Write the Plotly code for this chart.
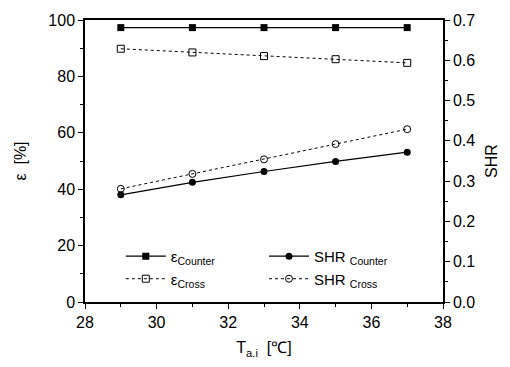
import plotly.graph_objects as go

temps = [29, 31, 33, 35, 37]
eps_counter = [97.3, 97.3, 97.3, 97.3, 97.3]
eps_cross = [89.8, 88.5, 87.2, 86.1, 84.8]
shr_counter = [0.266, 0.297, 0.324, 0.349, 0.372]
shr_cross = [0.281, 0.318, 0.354, 0.392, 0.429]

FONT = "Liberation Sans, Arial, sans-serif"

fig = go.Figure()
fig.add_trace(go.Scatter(x=temps, y=eps_counter, name="ε<sub>Counter</sub>",
                         mode="lines+markers", line=dict(color="black", width=1.2),
                         marker=dict(symbol="square", size=7, color="black"), legend="legend"))
fig.add_trace(go.Scatter(x=temps, y=eps_cross, name="ε<sub>Cross</sub>",
                         mode="lines+markers", line=dict(color="black", width=1, dash="3px,3px"),
                         marker=dict(symbol="square-open", size=7, color="black", line=dict(width=1)), legend="legend"))
fig.add_trace(go.Scatter(x=temps, y=shr_counter, name="SHR <sub>Counter</sub>", yaxis="y2",
                         mode="lines+markers", line=dict(color="black", width=1.2),
                         marker=dict(symbol="circle", size=7, color="black"), legend="legend2"))
fig.add_trace(go.Scatter(x=temps, y=shr_cross, name="SHR <sub>Cross</sub>", yaxis="y2",
                         mode="lines+markers", line=dict(color="black", width=1, dash="3px,3px"),
                         marker=dict(symbol="circle-open", size=7, color="black", line=dict(width=1)), legend="legend2"))

axis_common = dict(showline=True, linecolor="black", linewidth=1.5, ticks="outside",
                   ticklen=5, tickwidth=1.2, tickcolor="black", showgrid=False, zeroline=False,
                   tickfont=dict(family=FONT, size=16, color="black"))

fig.update_layout(
    width=510, height=367,
    margin=dict(l=85, r=61, t=17, b=65),
    paper_bgcolor="white", plot_bgcolor="white",
    font=dict(family=FONT, color="black"),
    xaxis=dict(range=[28, 38], dtick=2, mirror=True,
               minor=dict(dtick=1, ticks="outside", ticklen=3, tickcolor="black"),
               title=dict(text="T<sub>a.i</sub>  [℃]", font=dict(size=16), standoff=12),
               **axis_common),
    yaxis=dict(range=[0, 100], dtick=20,
               minor=dict(dtick=10, ticks="outside", ticklen=3, tickcolor="black"),
               title=dict(text="ε  [%]", font=dict(size=16), standoff=18),
               **axis_common),
    yaxis2=dict(range=[0, 0.7], dtick=0.1, tickformat=".1f", overlaying="y", side="right",
                minor=dict(dtick=0.05, ticks="outside", ticklen=3, tickcolor="black"),
                title=dict(text="SHR", font=dict(size=16), standoff=12),
                **axis_common),
    legend=dict(x=0.1, y=0.22, xanchor="left", yanchor="top", bgcolor="rgba(0,0,0,0)",
                font=dict(size=15), tracegroupgap=0, itemwidth=40),
    legend2=dict(x=0.5, y=0.22, xanchor="left", yanchor="top", bgcolor="rgba(0,0,0,0)",
                 font=dict(size=15), tracegroupgap=0, itemwidth=40),
)

fig.write_html("out.html")
